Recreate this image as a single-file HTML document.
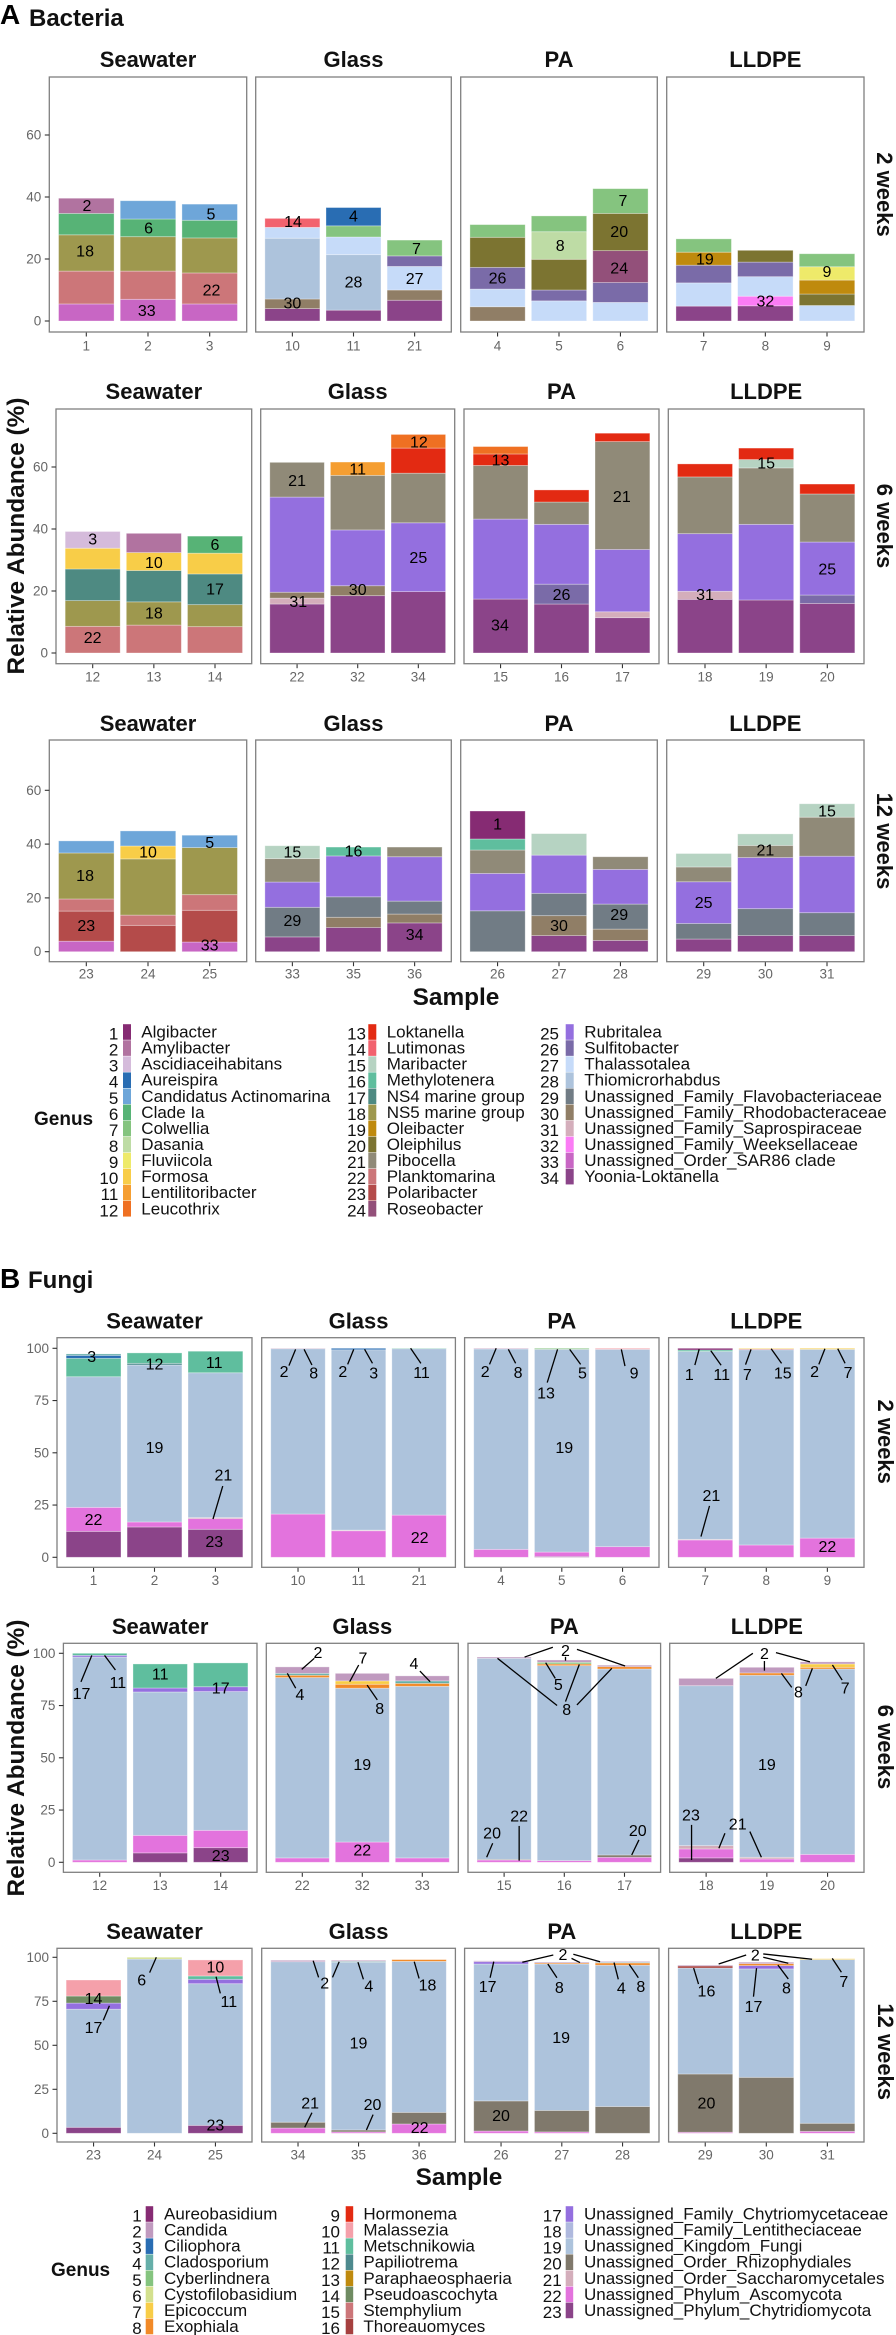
<!DOCTYPE html>
<html lang="en">
<head>
<meta charset="utf-8">
<title>Bacteria and Fungi relative abundance</title>
<style>
html,body{margin:0;padding:0;background:#fff;}
svg{display:block;font-family:"Liberation Sans",Arial,sans-serif;}
</style>
</head>
<body>
<svg id="chart" xmlns="http://www.w3.org/2000/svg" width="896" height="2335" viewBox="0 0 896 2335">
  <text x="0" y="24" font-size="28" font-weight="700" fill="#000">A</text>
  <text x="29" y="26" font-size="24" font-weight="700" fill="#111">Bacteria</text>
  <text x="0" y="1288" font-size="28" font-weight="700" fill="#000">B</text>
  <text x="28" y="1288" font-size="24" font-weight="700" fill="#111">Fungi</text>
  <text transform="translate(24,536) rotate(-90)" text-anchor="middle" font-size="24.4" font-weight="700" fill="#111">Relative Abundance (%)</text>
  <text transform="translate(24,1758) rotate(-90)" text-anchor="middle" font-size="24.4" font-weight="700" fill="#111">Relative Abundance (%)</text>
  <text x="456" y="1005" text-anchor="middle" font-size="24.4" font-weight="700" fill="#111">Sample</text>
  <text x="459" y="2185" text-anchor="middle" font-size="24.4" font-weight="700" fill="#111">Sample</text>
  <text x="34" y="1125" font-size="19" font-weight="700" fill="#111">Genus</text>
  <text x="51" y="2276" font-size="19" font-weight="700" fill="#111">Genus</text>
</svg>
<script>
// ---------- categories and palettes ----------
const bacteriaGenera = ["Algibacter","Amylibacter","Ascidiaceihabitans","Aureispira","Candidatus Actinomarina","Clade Ia","Colwellia","Dasania","Fluviicola","Formosa","Lentilitoribacter","Leucothrix","Loktanella","Lutimonas","Maribacter","Methylotenera","NS4 marine group","NS5 marine group","Oleibacter","Oleiphilus","Pibocella","Planktomarina","Polaribacter","Roseobacter","Rubritalea","Sulfitobacter","Thalassotalea","Thiomicrorhabdus","Unassigned_Family_Flavobacteriaceae","Unassigned_Family_Rhodobacteraceae","Unassigned_Family_Saprospiraceae","Unassigned_Family_Weeksellaceae","Unassigned_Order_SAR86 clade","Yoonia-Loktanella"];
const bacteriaColors = ["#862b73","#b173a0","#d5bbdb","#296db3","#6ea6d9","#57b376","#85c47f","#bedca5","#eeea6a","#f8cd48","#f59e31","#ef7022","#e32a12","#f2626e","#b6d3c2","#5fbe9e","#4e8a82","#9e984e","#bf8a0e","#7c7431","#908a78","#cc7679","#b44b4a","#93507a","#946fdf","#7a6ba8","#c6dbf9","#adc3dc","#717c85","#907e66","#d4aebb","#fb7cf5","#c866c4","#8b4489"];
const fungiGenera = ["Aureobasidium","Candida","Ciliophora","Cladosporium","Cyberlindnera","Cystofilobasidium","Epicoccum","Exophiala","Hormonema","Malassezia","Metschnikowia","Papiliotrema","Paraphaeosphaeria","Pseudoascochyta","Stemphylium","Thoreauomyces","Unassigned_Family_Chytriomycetaceae","Unassigned_Family_Lentitheciaceae","Unassigned_Kingdom_Fungi","Unassigned_Order_Rhizophydiales","Unassigned_Order_Saccharomycetales","Unassigned_Phylum_Ascomycota","Unassigned_Phylum_Chytridiomycota"];
const fungiColors = ["#862b73","#c09abf","#296db3","#66afa9","#85c47f","#d3e08e","#f8cd48","#f28a28","#e32a12","#f5a0aa","#5fbe9e","#4e8a8e","#bf8a0e","#6f8b62","#cc7679","#a6403f","#946fdf","#afb9de","#adc3dc","#80796c","#d4aebb","#e373dd","#8b4489"];
const facetTitles = ["Seawater","Glass","PA","LLDPE"];
const bacteriaYTicks = [0,20,40,60];
const fungiYTicks = [0,25,50,75,100];

// ---------- sample ids per facet ----------
const a2Samples = [["1","2","3"],["10","11","21"],["4","5","6"],["7","8","9"]];
const a6Samples = [["12","13","14"],["22","32","34"],["15","16","17"],["18","19","20"]];
const a12Samples = [["23","24","25"],["33","35","36"],["26","27","28"],["29","30","31"]];
const b2Samples = [["1","2","3"],["10","11","21"],["4","5","6"],["7","8","9"]];
const b6Samples = [["12","13","14"],["22","32","33"],["15","16","17"],["18","19","20"]];
const b12Samples = [["23","24","25"],["34","35","36"],["26","27","28"],["29","30","31"]];

// ---------- stacked values: flat genus,percent pairs from bottom to top ----------
const a2Seawater = [[33,5.5,22,10.6,18,11.7,6,6.9,2,4.9],[33,7,22,9.1,18,11.1,6,5.7,5,5.9],[33,5.5,22,10,18,11.3,6,5.7,5,5.2]];
const a2Glass = [[34,4,30,3.1,28,19.6,27,3.5,14,2.9],[34,3.5,28,17.9,27,5.7,7,3.6,4,5.9],[34,6.7,30,3.3,27,7.6,26,3.4,7,5.1]];
const a2PA = [[30,4.6,27,5.7,26,7,20,9.7,7,4.1],[27,6.5,26,3.5,20,9.9,8,8.9,7,5.1],[27,6,26,6.4,24,10.3,20,12,7,8]];
const a2LLDPE = [[34,4.8,27,7.5,26,5.7,19,4.2,7,4.3],[34,4.9,32,3.1,27,6.3,26,4.7,20,3.8],[27,5,20,3.7,19,4.5,9,4.3,7,4.2]];

const a6Seawater = [[22,8.6,18,8.3,17,10.2,10,6.7,3,5.4],[22,9,18,7.5,17,10.1,10,5.8,2,6.2],[22,8.5,18,7.1,17,9.9,10,6.7,6,5.5]];
const a6Glass = [[34,15.8,31,1.9,30,1.9,25,30.7,21,11.2],[34,18.5,30,3.2,25,18,21,17.6,11,4.3],[34,19.8,25,22.2,21,16,13,8.1,12,4.4]];
const a6PA = [[34,17.4,25,25.8,21,17.3,13,3.7,12,2.4],[34,15.8,26,6.4,25,19.3,21,7.2,13,3.9],[34,11.4,31,1.9,25,20.1,21,34.8,13,2.7]];
const a6LLDPE = [[34,17.3,31,2.6,25,18.6,21,18.3,13,4.2],[34,17.1,25,24.4,21,18.2,15,2.7,13,3.7],[34,16,26,2.7,25,17.1,21,15.5,13,3.2]];

const a12Seawater = [[33,3.9,23,11.2,22,4.5,18,17.1,5,4.5],[23,9.8,22,3.8,18,20.9,10,4.8,5,5.6],[33,3.6,23,11.8,22,5.8,18,17.5,5,4.6]];
const a12Glass = [[34,5.5,29,11,25,9.4,21,8.7,15,4.8],[34,9,30,3.8,29,7.6,25,15.2,16,3.3],[34,10.7,30,3.3,29,4.8,25,16.5,21,3.6]];
const a12PA = [[29,15.2,25,13.9,21,8.7,16,4.1,1,10.4],[34,6,30,7.4,29,8.3,25,14.2,15,8],[34,4.2,30,4.2,29,9.3,25,12.9,21,4.7]];
const a12LLDPE = [[34,4.7,29,5.8,25,15.5,21,5.5,15,5],[34,6,29,10,25,19,21,4.5,15,4.3],[34,6,29,8.5,25,21,21,14.5,15,5]];

const b2Seawater = [[23,12.4,22,11.5,19,62.5,11,8.8,3,1.4,4,0.7],[23,14.5,22,2.4,19,75.1,12,0.8,11,5],[23,13.4,22,5.1,21,0.5,19,69.3,11,10.3]];
const b2Glass = [[22,20.7,19,79.1,2,0.2],[22,12.7,21,0.3,19,86.3,3,0.7],[22,20.2,19,79.6,11,0.2]];
const b2PA = [[22,3.8,19,95.9,2,0.3],[23,0.4,22,2.1,19,97,5,0.5],[22,5.1,19,94.4,10,0.5]];
const b2LLDPE = [[22,8.3,21,0.3,19,89.9,11,0.7,1,0.8],[22,5.9,19,93.4,15,0.4,7,0.3],[22,9.2,19,90.3,7,0.5]];

const b6Seawater = [[22,1.1,19,97.1,17,0.8,11,1],[23,4.5,22,8.4,19,68.6,17,1.9,11,11.5],[23,7,22,8.3,19,66.4,17,2.3,11,11.4]];
const b6Glass = [[22,2.1,19,86.3,8,1.1,4,0.9,2,3.1],[22,9.7,19,73.6,8,1.9,7,1.6,2,3.6],[22,2.1,19,82.1,8,1.4,4,1.2,2,2.4]];
const b6PA = [[22,1.1,20,0.3,19,96.2,2,0.6],[22,0.8,19,93.3,8,0.8,5,0.8,2,1.1],[22,2.4,20,1.1,19,89,8,1.1,2,0.7]];
const b6LLDPE = [[23,2.1,22,4.3,21,1.6,19,76.5,2,3.5],[22,1.6,21,0.8,19,87.1,8,1.1,2,2.7],[22,3.8,19,88.7,8,0.8,7,1.6,2,1]];

const b12Seawater = [[23,3.4,19,67.1,17,3.5,14,4,10,9.1],[19,99,6,1],[23,4.5,19,80.5,17,2.5,11,1.9,10,9.1]];
const b12Glass = [[22,3,20,3.3,19,91.2,2,0.8],[22,0.8,20,1.1,19,95.3,4,0.5,2,0.6],[22,5.3,20,6.6,19,85.8,8,1]];
const b12PA = [[22,1.3,20,17.1,19,77.8,17,1.3,2,0.5],[22,0.8,20,12.2,19,83.2,8,0.6,2,0.5],[20,15.2,19,80.3,8,1.3,4,0.4,2,0.5]];
const b12LLDPE = [[22,0.6,20,33.1,19,60.2,16,1.2,2,0.5],[20,31.8,19,61.6,17,1.9,8,1.1,2,0.8],[22,1.1,20,4.6,19,93,7,0.5]];

// ---------- genus number labels: bar position, percent, text, optional leader lines ----------
const a2SeawaterLabels = [[0.01,36.9,"2"],[1.01,29.6,"6"],[2.02,34.2,"5"],[-0.02,22.2,"18"],[2.03,9.7,"22"],[0.98,3,"33"]];
const a2GlassLabels = [[0.01,31.7,"14"],[1,33.5,"4"],[2.03,23.1,"7"],[1,12.2,"28"],[2,13.4,"27"],[0,5.5,"30"]];
const a2PALabels = [[0,13.5,"26"],[1.02,24,"8"],[2.04,38.6,"7"],[1.98,28.6,"20"],[1.98,16.8,"24"]];
const a2LLDPELabels = [[0.02,19.7,"19"],[1,6.2,"32"],[2,15.6,"9"]];
const a6SeawaterLabels = [[0,36.5,"3"],[1,28.9,"10"],[2,34.7,"6"],[2,20.4,"17"],[1,12.6,"18"],[0,4.7,"22"]];
const a6GlassLabels = [[0,55.3,"21"],[1,59,"11"],[2.01,67.8,"12"],[2,30.5,"25"],[0.02,16.3,"31"],[1,20.1,"30"]];
const a6PALabels = [[0,62,"13"],[-0.01,8.7,"34"],[1,18.6,"26"],[1.99,50.1,"21"]];
const a6LLDPELabels = [[1,60.9,"15"],[0,18.5,"31"],[2,26.8,"25"]];
const a12SeawaterLabels = [[-0.02,27.9,"18"],[1,36.6,"10"],[2,40.3,"5"],[0,9.3,"23"],[2,2.1,"33"]];
const a12GlassLabels = [[0,36.6,"15"],[1,37,"16"],[0,11.2,"29"],[2,6,"34"]];
const a12PALabels = [[0,47.1,"1"],[1,9.3,"30"],[1.98,13.4,"29"]];
const a12LLDPELabels = [[0,18,"25"],[1,37.5,"21"],[2,52,"15"]];

const b2SeawaterLabels = [[-0.03,95.7,"3"],[1,92,"12"],[1.98,92.8,"11"],[1,52,"19"],[0,17.5,"22"],[2.13,38.9,"21",[[2.12,34.1,1.96,18.3]]],[1.98,7,"23"]];
const b2GlassLabels = [[-0.23,88.4,"2",[[-0.04,99.5,-0.15,91.7]]],[0.26,87.6,"8",[[0.1,99.5,0.23,92]]],[0.74,88.4,"2",[[0.92,99.5,0.82,92.3]]],[1.25,87.6,"3",[[1.1,99.5,1.23,92.8]]],[2.04,88,"11",[[1.86,100,2.03,92.8]]],[2.01,9.1,"22"]];
const b2PALabels = [[-0.26,88.4,"2",[[-0.08,100,-0.19,92.3]]],[0.28,88,"8",[[0.12,99.5,0.24,92.8]]],[0.74,78.1,"13",[[0.93,99.5,0.76,83.6]]],[1.34,87.6,"5",[[1.13,99.5,1.31,92.3]]],[2.19,87.7,"9",[[1.98,99.5,2.04,91.5]]],[1.04,52,"19"]];
const b2LLDPELabels = [[-0.26,87,"1",[[-0.1,99.5,-0.17,92]]],[0.27,87,"11",[[0.09,98.9,0.26,91.9]]],[0.69,87,"7",[[0.75,99.5,0.66,92.2]]],[1.27,87.6,"15",[[1.08,99.8,1.25,92.8]]],[1.79,88.4,"2",[[1.96,99.8,1.86,92.3]]],[2.34,88,"7",[[2.17,99.8,2.29,92.8]]],[0.1,29,"21",[[0.07,24.6,-0.07,9.9]]],[2,4.6,"22"]];

const b6SeawaterLabels = [[-0.3,80.4,"17",[[-0.13,99,-0.31,86.3]]],[0.3,85.5,"11",[[0.08,99,0.26,92]]],[1,89.5,"11"],[2,82.8,"17"],[2,2.7,"23"]];
const b6GlassLabels = [[0.26,99.8,"2",[[0.2,97.6,-0.01,92.3]]],[-0.04,79.7,"4",[[-0.25,90.4,-0.11,83.3]]],[1.01,97.3,"7",[[0.94,94.4,0.79,86.4]]],[1.29,73,"8",[[1.08,84.8,1.25,77.7]]],[1.86,94.7,"4",[[1.96,91.5,2.13,86.4]]],[1,46.3,"19"],[1,5.4,"22"]];
const b6PALabels = [[1.02,100.8,"2",[[0.81,102.9,0.34,98.2],[1.21,101.9,2.01,93.9],[1.02,98.3,1.02,96.5]]],[0.9,84.5,"5",[[0.69,95.5,0.85,88]]],[1.04,72.7,"8",[[0.88,75,-0.11,97.6],[1.02,76.9,1.25,94.7],[1.21,75.3,1.79,92.8]]],[-0.2,13.6,"20",[[-0.19,9.1,-0.29,2.4]]],[0.25,21.7,"22",[[0.25,17.4,0.25,0.8]]],[2.22,14.7,"20",[[2.24,10.7,2.12,3.5]]]];
const b6LLDPELabels = [[0.96,99.5,"2",[[0.77,100,0.16,88],[1.15,100.3,1.71,95.9],[0.96,96.3,0.96,91.7]]],[1.52,80.9,"8",[[1.24,90.4,1.41,83.7],[1.75,92.8,1.64,84.4]]],[2.29,82.8,"7",[[2.08,94.4,2.24,87.2]]],[-0.25,22.2,"23",[[-0.24,17.9,-0.24,1.1]]],[0.52,17.9,"21",[[0.31,13.9,0.21,6.7],[0.72,14.7,0.91,2.4]]],[1,46.3,"19"]];

const b12SeawaterLabels = [[0,76.1,"14"],[0,59.5,"17",[[0.26,72.5,0.16,64.2]]],[0.79,86.6,"6",[[1.03,100,0.92,91.3]]],[2,93.9,"10"],[2.22,74.4,"11",[[2.01,89,2.08,79.5]]],[2,4.2,"23"]];
const b12GlassLabels = [[0.44,84.7,"2",[[0.25,98.1,0.34,88.6],[0.68,97.5,0.57,88.6]]],[1.17,83.1,"4",[[0.99,97.2,1.08,87.5]]],[2.14,83.7,"18",[[1.92,97.5,2,88]]],[1,50.8,"19"],[0.2,16.7,"21",[[0.23,11.7,0.11,3.4]]],[1.23,15.7,"20",[[1.24,10.6,1.13,1.9]]],[2.01,2.7,"22"]];
const b12PALabels = [[1.02,101,"2",[[0.86,101.3,0.35,97.2],[1.19,101.7,1.63,97.5],[1.16,99.4,1.3,97]]],[-0.22,82.8,"17",[[-0.12,97.5,-0.18,88.4]]],[0.96,82.4,"8",[[0.77,96.2,0.92,88.4]]],[1.98,82,"4",[[1.86,97,1.93,87.5]]],[2.3,82.8,"8",[[2.11,96,2.26,88.4]]],[0.99,53.8,"19"],[0,9.5,"20"]];
const b12LLDPELabels = [[0.82,100.8,"2",[[0.67,101.3,0.22,96.2],[0.95,101.9,1.75,98.9],[0.95,100,1.36,96.6]]],[0.02,80.3,"16",[[-0.19,93.9,-0.11,84.8]]],[0.79,71.6,"17",[[0.84,93.8,0.79,77.6]]],[1.33,82,"8",[[1.19,95.6,1.36,87.7]]],[2.27,85.6,"7",[[2.08,99.4,2.23,91.5]]],[0.02,16.7,"20"]];

const rowTitles = ["2 weeks","6 weeks","12 weeks"];

// ---------- layout ----------
const NS = "http://www.w3.org/2000/svg";
const svg = document.getElementById("chart");
function mk(tag, attrs, parent, text) {
  const el = document.createElementNS(NS, tag);
  for (const k in attrs) el.setAttribute(k, attrs[k]);
  if (text !== undefined) el.appendChild(document.createTextNode(text));
  (parent || svg).appendChild(el);
  return el;
}
const xA1 = [[49.3,246.7],[255.7,451.3],[460.7,657.3],[666.7,864]];
const xA2 = [[56,251.7],[260.7,454.7],[464,659],[668.3,864]];
const xB1 = [[57,252],[261.7,455.4],[464.6,659],[668.6,864]];
const xB2 = [[63.4,257],[266.3,458.3],[468,660.6],[669.7,864]];

function drawRow(cfg) {
  cfg.facets.forEach((facet, p) => {
    const [x0, x1] = cfg.xs[p];
    const step = (x1 - x0) / 3.2;
    const xPos = u => x0 + (0.6 + u) * step;
    const yPos = v => cfg.zero - v * cfg.scale;
    const slug = cfg.id + "-" + facetTitles[p].toLowerCase();
    const g = mk("g", {});
    
    

    const title = mk("text", {x:(x0+x1)/2, y:cfg.titleY, "text-anchor":"middle", "dominant-baseline":"central", "font-size":22, "font-weight":700, fill:"#111"}, g, facetTitles[p]);
    
    

    facet.stacks.forEach((stack, b) => {
      let acc = 0;
      for (let i = 0; i < stack.length; i += 2) {
        const genus = stack[i], val = stack[i+1];
        const rect = mk("rect", {x:xPos(b)-0.45*step, width:0.9*step, y:yPos(acc+val), height:val*cfg.scale, fill:cfg.colors[genus-1], stroke:"#fff", "stroke-opacity":0.4, "stroke-width":0.8}, g);
        
        
        acc += val;
      }
      const tick = mk("line", {x1:xPos(b), x2:xPos(b), y1:cfg.bottom, y2:cfg.bottom+4.5, stroke:"#333", "stroke-width":1.1}, g);
      
      
      const tl = mk("text", {x:xPos(b), y:cfg.tickY, "text-anchor":"middle", "dominant-baseline":"central", "font-size":13.5, fill:"#666"}, g, cfg.samples[p][b]);
      
      
    });

    const frame = mk("rect", {x:x0, y:cfg.top, width:x1-x0, height:cfg.bottom-cfg.top, fill:"none", stroke:"#808080", "stroke-width":1.3}, g);
    
    

    if (p === 0) {
      cfg.yTicks.forEach(t => {
        const tk = mk("line", {x1:x0-4.5, x2:x0, y1:yPos(t), y2:yPos(t), stroke:"#333", "stroke-width":1.1}, g);
        
        
        const tt = mk("text", {x:x0-8, y:yPos(t), "text-anchor":"end", "dominant-baseline":"central", "font-size":13.5, fill:"#666"}, g, String(t));
        
        
      });
    }

    facet.labels.forEach(lab => {
      const tx = mk("text", {x:xPos(lab[0]), y:yPos(lab[1]), "text-anchor":"middle", "dominant-baseline":"central", "font-size":16, fill:"#000"}, g, lab[2]);
      
      
      (lab[3] || []).forEach(s => {
        const ln = mk("line", {x1:xPos(s[0]), y1:yPos(s[1]), x2:xPos(s[2]), y2:yPos(s[3]), stroke:"#000", "stroke-width":1.3}, g);
        
        
      });
    });
  });
  const strip = mk("text", {transform:"translate("+cfg.stripX+","+cfg.stripY+") rotate(90)", "text-anchor":"middle", "dominant-baseline":"central", "font-size":22, "font-weight":700, fill:"#111"}, svg, cfg.stripText);
  
  
}

drawRow({id:"bacteria-2-weeks", xs:xA1, top:77, bottom:332, zero:321, scale:3.1, titleY:59.5, tickY:346, yTicks:bacteriaYTicks, colors:bacteriaColors, samples:a2Samples, stripX:884.7, stripY:194.5, stripText:rowTitles[0],
  facets:[{stacks:a2Seawater,labels:a2SeawaterLabels},{stacks:a2Glass,labels:a2GlassLabels},{stacks:a2PA,labels:a2PALabels},{stacks:a2LLDPE,labels:a2LLDPELabels}]});
drawRow({id:"bacteria-6-weeks", xs:xA2, top:409, bottom:663.7, zero:653, scale:3.1, titleY:391.7, tickY:677, yTicks:bacteriaYTicks, colors:bacteriaColors, samples:a6Samples, stripX:884.7, stripY:526, stripText:rowTitles[1],
  facets:[{stacks:a6Seawater,labels:a6SeawaterLabels},{stacks:a6Glass,labels:a6GlassLabels},{stacks:a6PA,labels:a6PALabels},{stacks:a6LLDPE,labels:a6LLDPELabels}]});
drawRow({id:"bacteria-12-weeks", xs:xA1, top:740, bottom:961.7, zero:951.7, scale:2.69, titleY:723.3, tickY:974, yTicks:bacteriaYTicks, colors:bacteriaColors, samples:a12Samples, stripX:884.7, stripY:841, stripText:rowTitles[2],
  facets:[{stacks:a12Seawater,labels:a12SeawaterLabels},{stacks:a12Glass,labels:a12GlassLabels},{stacks:a12PA,labels:a12PALabels},{stacks:a12LLDPE,labels:a12LLDPELabels}]});
drawRow({id:"fungi-2-weeks", xs:xB1, top:1337.7, bottom:1567.3, zero:1557.3, scale:2.09, titleY:1321, tickY:1580.7, yTicks:fungiYTicks, colors:fungiColors, samples:b2Samples, stripX:885.7, stripY:1441.7, stripText:rowTitles[0],
  facets:[{stacks:b2Seawater,labels:b2SeawaterLabels},{stacks:b2Glass,labels:b2GlassLabels},{stacks:b2PA,labels:b2PALabels},{stacks:b2LLDPE,labels:b2LLDPELabels}]});
drawRow({id:"fungi-6-weeks", xs:xB2, top:1643.3, bottom:1872.3, zero:1862.3, scale:2.09, titleY:1626.7, tickY:1885.7, yTicks:fungiYTicks, colors:fungiColors, samples:b6Samples, stripX:885.7, stripY:1747, stripText:rowTitles[1],
  facets:[{stacks:b6Seawater,labels:b6SeawaterLabels},{stacks:b6Glass,labels:b6GlassLabels},{stacks:b6PA,labels:b6PALabels},{stacks:b6LLDPE,labels:b6LLDPELabels}]});
drawRow({id:"fungi-12-weeks", xs:xB1, top:1948.3, bottom:2142, zero:2133.3, scale:1.76, titleY:1931.7, tickY:2155, yTicks:fungiYTicks, colors:fungiColors, samples:b12Samples, stripX:885.7, stripY:2051.7, stripText:rowTitles[2],
  facets:[{stacks:b12Seawater,labels:b12SeawaterLabels},{stacks:b12Glass,labels:b12GlassLabels},{stacks:b12PA,labels:b12PALabels},{stacks:b12LLDPE,labels:b12LLDPELabels}]});

// ---------- legends ----------
function drawLegend(id, names, colors, firstY, cols) {
  cols.forEach(col => {
    for (let n = col.from; n <= col.to; n++) {
      const cy = firstY + (n - col.from) * 16.07;
      const num = mk("text", {x:col.numX, y:cy+2, "text-anchor":"end", "dominant-baseline":"central", "font-size":17, fill:"#111"}, svg, String(n));
      
      
      const sw = mk("rect", {x:col.swX, y:cy-7.8, width:col.swW, height:15.6, fill:colors[n-1]}, svg);
      
      
      const tx = mk("text", {x:col.textX, y:cy, "dominant-baseline":"central", "font-size":17, fill:"#111"}, svg, names[n-1]);
      
      
    }
  });
}
drawLegend("bacteria", bacteriaGenera, bacteriaColors, 1032, [
  {from:1, to:12, numX:118.3, swX:123, swW:8, textX:141.3},
  {from:13, to:24, numX:366, swX:368.3, swW:8, textX:386.7},
  {from:25, to:34, numX:559, swX:565.7, swW:8, textX:584.3}
]);
drawLegend("fungi", fungiGenera, fungiColors, 2214, [
  {from:1, to:8, numX:141.7, swX:145.7, swW:7.5, textX:164},
  {from:9, to:16, numX:340, swX:345.7, swW:7.5, textX:363.4},
  {from:17, to:23, numX:561.7, swX:565.7, swW:7.5, textX:584}
]);
</script>
</body>
</html>
